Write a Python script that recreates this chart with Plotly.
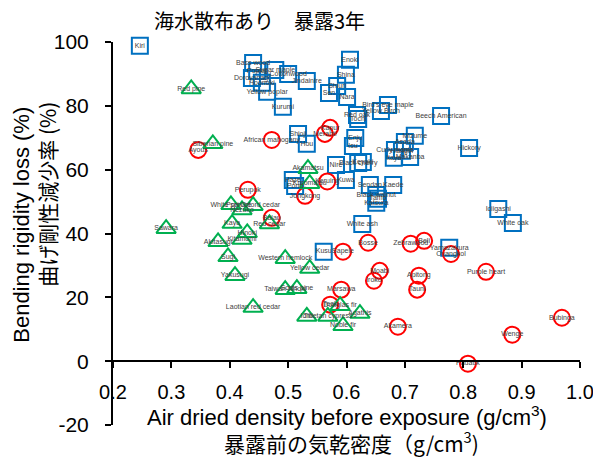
import plotly.graph_objects as go

# Hardwoods (blue squares)
hw_names = ["Kiri", "Bass wood", "Poplar", "Sugar maple", "Cottonwood", "Jindainire", "Doroyanagi",
            "Hoonoki", "Yellow poplar", "Kurumi", "Enoki", "Shina", "Shiuri", "Sen", "Nara",
            "Bird's eye maple", "Yellow Birch", "Red oak", "Tochi", "Beech American", "Shioji", "Hou",
            "Enju", "Isu", "Mizume", "Asada", "Harigiri", "Curly maple", "Itaya", "Makanba", "Hickory",
            "Nire", "Black cherry", "Keyaki", "Kuwa", "Haze", "Pond", "Sendan", "Kaede",
            "Black walnut", "Tamo", "Katsura", "Iciigashi", "White oak", "White ash", "Kusu", "Yamazakura"]
hw_x = [0.246, 0.440, 0.447, 0.478, 0.500, 0.532, 0.438,
        0.455, 0.464, 0.491, 0.606, 0.599, 0.584, 0.570, 0.601,
        0.671, 0.659, 0.618, 0.620, 0.762, 0.517, 0.532,
        0.615, 0.611, 0.717, 0.700, 0.695, 0.683, 0.681, 0.709, 0.810,
        0.582, 0.620, 0.628, 0.599, 0.508, 0.512, 0.640, 0.680,
        0.651, 0.654, 0.651, 0.860, 0.885, 0.627, 0.561, 0.776]
hw_y = [98.8, 93.4, 90.9, 91.2, 90.0, 87.8, 88.7,
        87.2, 84.4, 79.7, 94.4, 89.7, 86.2, 84.0, 82.8,
        80.3, 78.4, 77.1, 75.9, 76.8, 71.2, 68.1,
        69.9, 67.4, 70.6, 68.7, 65.9, 66.2, 63.7, 64.0, 66.8,
        61.5, 62.1, 62.4, 56.8, 56.8, 54.9, 55.2, 55.2,
        52.1, 50.9, 49.6, 47.7, 43.3, 43.0, 34.3, 35.5]

# Tropical woods (red circles)
tw_names = ["Ayous", "African mahogany", "Meranti", "Kapur", "Keruing", "Jongkong", "Perupok",
            "Balau", "Sapele", "Bosse", "Zebrawood", "Beli", "Ovangkol", "Purple heart", "Moabi",
            "Iroko", "Apitong", "Tauni", "Marsawa", "Teak", "Akamera", "Wenge", "Bubinga", "Padauk"]
tw_x = [0.346, 0.472, 0.563, 0.572, 0.567, 0.529, 0.431,
        0.472, 0.594, 0.637, 0.710, 0.733, 0.779, 0.839, 0.657,
        0.647, 0.724, 0.721, 0.591, 0.572, 0.688, 0.884, 0.969, 0.808]
tw_y = [66.2, 69.3, 71.2, 73.1, 56.3, 51.8, 53.7,
        44.9, 34.3, 37.1, 36.8, 37.7, 33.6, 28.0, 28.3,
        25.2, 26.8, 22.4, 22.4, 17.7, 10.8, 8.3, 13.6, -0.8]

# Softwoods (green triangles)
sw_names = ["Red pine", "Siberian pine", "Akamatsu", "Kuromatsu", "White spruce", "Nezuko",
            "Port Orford cedar", "Red cedar", "Kaya", "Hinoki", "Kitamomi", "Akitasugi", "Sugi",
            "Yakusugi", "Sawara", "Western hemlock", "Yellow cedar", "Taiwan hinoki", "Scots pine",
            "Laotian red cedar", "Ichii", "Douglas fir", "Tibetan cypress", "Noble fir", "Agathis"]
sw_x = [0.334, 0.371, 0.534, 0.537, 0.402, 0.421,
        0.440, 0.468, 0.404, 0.430, 0.421, 0.380, 0.397,
        0.409, 0.291, 0.495, 0.537, 0.495, 0.515,
        0.440, 0.532, 0.589, 0.568, 0.594, 0.623]
sw_y = [85.3, 68.1, 60.3, 55.6, 49.0, 47.4,
        48.7, 43.0, 43.1, 40.2, 38.1, 37.4, 32.7,
        26.8, 41.5, 32.1, 29.0, 22.4, 22.7,
        16.8, 14.0, 17.4, 14.0, 11.1, 14.9]

x_ticks = [0.2, 0.3, 0.4, 0.5, 0.6, 0.7, 0.8, 0.9, 1.0]
x_tick_labels = ["0.2", "0.3", "0.4", "0.5", "0.6", "0.7", "0.8", "0.9", "1.0"]
y_ticks = [-20, 0, 20, 40, 60, 80, 100]
y_tick_labels = ["-20", "0", "20", "40", "60", "80", "100"]

title_text = "海水散布あり　暴露3年"
xtitle_en = "Air dried density before exposure (g/cm<sup>3</sup>)"
xtitle_ja = "暴露前の気乾密度（g/cm<sup>3</sup>)"
ytitle_en = "Bending rigidity loss (%)"
ytitle_ja = "曲げ剛性減少率 (%)"

SANS = "Liberation Sans, Arial, sans-serif"
CJK = "Noto Sans CJK JP, sans-serif"

fig = go.Figure()
fig.add_trace(go.Scatter(x=hw_x, y=hw_y, mode="markers", cliponaxis=False, hoverinfo="skip",
                         marker=dict(symbol="square-open", size=16, color="#0070C0",
                                     line=dict(width=2, color="#0070C0"))))
fig.add_trace(go.Scatter(x=tw_x, y=tw_y, mode="markers", cliponaxis=False, hoverinfo="skip",
                         marker=dict(symbol="circle-open", size=16, color="#FF0000",
                                     line=dict(width=2, color="#FF0000"))))
fig.add_trace(go.Scatter(x=sw_x, y=sw_y, mode="markers", cliponaxis=False, hoverinfo="skip",
                         marker=dict(symbol="triangle-up-open", size=17, color="#00B050",
                                     line=dict(width=2, color="#00B050"))))
fig.add_trace(go.Scatter(x=hw_x + tw_x + sw_x, y=hw_y + tw_y + sw_y, text=hw_names + tw_names + sw_names,
                         mode="text", textposition="middle center", cliponaxis=False, hoverinfo="skip",
                         textfont=dict(family=SANS, size=7, color="#404040")))

fig.update_layout(
    width=593, height=461, autosize=False,
    margin=dict(l=113, r=13, t=42, b=36, autoexpand=False),
    paper_bgcolor="white", plot_bgcolor="white",
    showlegend=False,
    font=dict(family=SANS, color="black"),
    xaxis=dict(range=[0.2, 1.0], tickmode="array", tickvals=x_ticks, ticktext=x_tick_labels,
               ticks="outside", ticklen=6, automargin=False,
               tickwidth=2, tickcolor="black", showline=True, linewidth=2, linecolor="black",
               anchor="free", position=20 / 120, showgrid=False, zeroline=False,
               ticklabeloverflow="allow",
               tickfont=dict(family=SANS, size=20, color="black"), ticklabelstandoff=7),
    yaxis=dict(range=[-20, 100], tickmode="array", tickvals=y_ticks, ticktext=y_tick_labels,
               ticks="outside", ticklen=6, tickwidth=2, automargin=False,
               tickcolor="black", showline=True, linewidth=2, linecolor="black",
               showgrid=False, zeroline=False, ticklabeloverflow="allow",
               tickfont=dict(family=SANS, size=21, color="black"), ticklabelstandoff=12),
    annotations=[
        dict(text=title_text, xref="paper", yref="paper", x=(152 - 113) / 467, y=1.055, xanchor="left",
             yanchor="middle", showarrow=False, font=dict(family=CJK, size=20, color="black")),
        dict(text=xtitle_en, xref="paper", yref="paper", x=0.5, y=(425.5 - 416) / 383.5,
             xanchor="center", yanchor="middle", showarrow=False,
             font=dict(family=SANS, size=22, color="black")),
        dict(text=xtitle_ja, xref="paper", yref="paper", x=0.51, y=(425.5 - 443) / 383.5,
             xanchor="center", yanchor="middle", showarrow=False,
             font=dict(family=CJK, size=21, color="black")),
        dict(text=ytitle_en, xref="paper", yref="paper", x=(22 - 113) / 467, y=(425.5 - 225) / 383.5,
             xanchor="center", yanchor="middle", textangle=-90, showarrow=False,
             font=dict(family=SANS, size=22, color="black")),
        dict(text=ytitle_ja, xref="paper", yref="paper", x=(47 - 113) / 467, y=(425.5 - 195) / 383.5,
             xanchor="center", yanchor="middle", textangle=-90, showarrow=False,
             font=dict(family=CJK, size=21, color="black")),
    ],
)

fig.write_html("out.html")
